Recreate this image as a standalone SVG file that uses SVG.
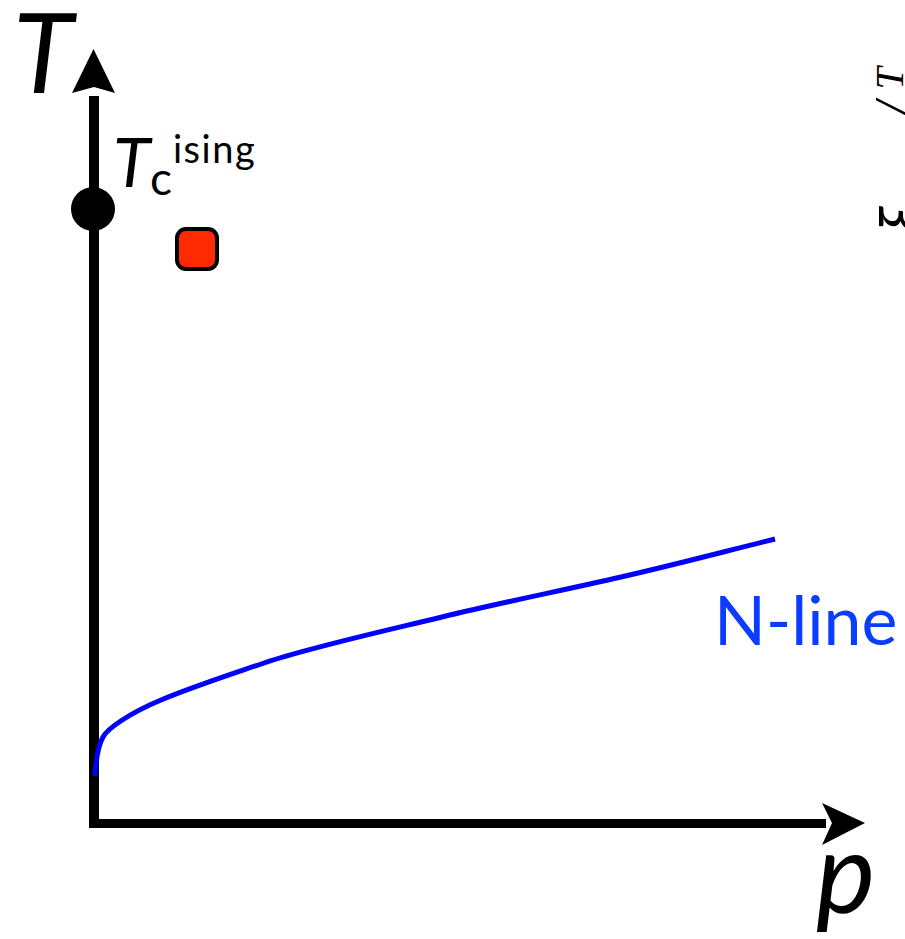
<svg xmlns="http://www.w3.org/2000/svg" width="905" height="939" viewBox="0 0 905 939">
<style>
.ax{stroke:#000;stroke-width:10;fill:none}
.lbl{font-family:Lato,"Open Sans",sans-serif;fill:#000}
.it{font-style:italic}
</style>
<rect width="905" height="939" fill="#fff"/>
<g id="connectors">
<path class="ax" d="M94,828 V96"/>
<path d="M93.5,49 L115,93 L94,87 L72,93 Z" fill="#000"/>
<path class="ax" d="M89,823.5 H826" style="stroke-width:9"/>
<path d="M865,823 L822,803 L832,823 L822,845 Z" fill="#000"/>
</g>
<g id="axis-T"><text class="lbl it" x="13" y="93" font-size="110">T</text></g>
<g id="axis-p"><text class="lbl it" x="816" y="913" font-size="112">p</text></g>
<g id="ising-point">
<circle cx="93" cy="209" r="22" fill="#000"/>
<text class="lbl it" x="113" y="187" font-size="68">T</text>
<text class="lbl" x="150" y="195" font-size="46">c</text>
<text class="lbl" x="173" y="163" font-size="38" letter-spacing="1.5">ising</text>
</g>
<g id="red-square"><rect x="177" y="229" width="40" height="40" rx="9" fill="#ff2a00" stroke="#000" stroke-width="4"/></g>
<g id="n-line">
<path d="M95,776 C96,758 98,746 103,737 S130,713 161,700 S220,678 264,663 S380,632 442,617 S560,591 621,577 S730,550 775,539" stroke="#0000ff" stroke-width="5" fill="none"/>
<text x="714" y="645" font-size="68" font-family="Lato,'Open Sans',sans-serif" fill="#0a3dff">N-line</text>
</g>
<g id="rotated-label">
<text class="lbl it" transform="translate(925,232) rotate(-90)" font-size="64">ξ</text>
<text font-family="'Liberation Serif',serif" font-style="italic" transform="translate(911,116) rotate(-90)"><tspan font-size="52">/</tspan><tspan font-size="40" dx="12" dy="-8">T</tspan></text>
</g>
</svg>
